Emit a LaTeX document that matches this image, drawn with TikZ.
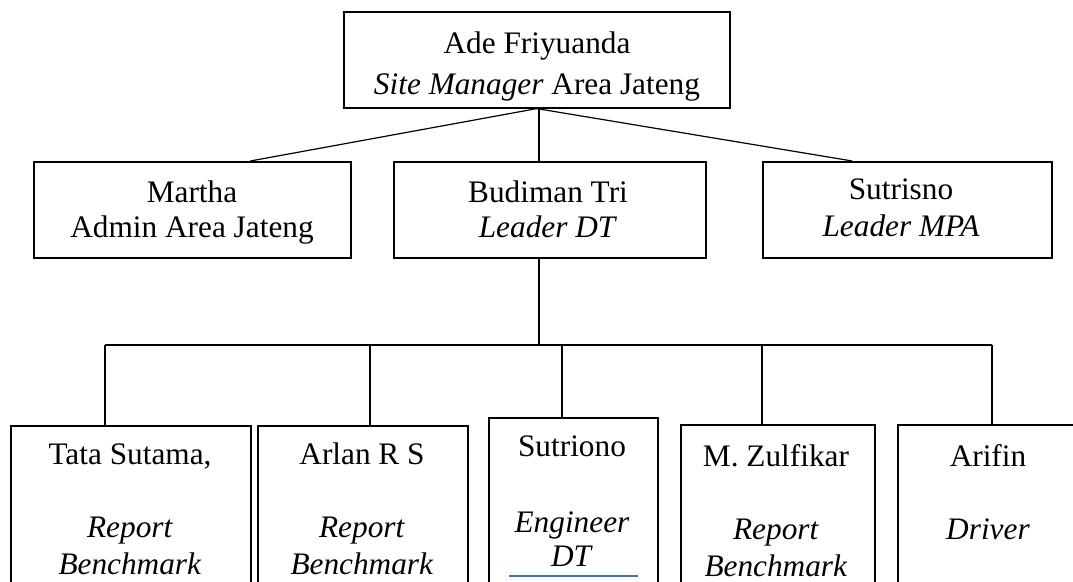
\documentclass[tikz,border=0pt]{standalone}
\usepackage{fontspec}
\setmainfont{Liberation Serif}
\definecolor{fieldblue}{RGB}{68,114,196}
\tikzset{
  box/.style={draw, line width=1.6pt, inner sep=0pt, anchor=north west},
  txt/.style={inner sep=0pt, align=center, anchor=north, font=\fontsize{31.3}{37}\selectfont},
  link/.style={line width=1.2pt}
}
\begin{document}
\begin{tikzpicture}[x=1pt, y=-1pt]
\useasboundingbox (0,0) rectangle (1073,581);
\clip (0,0) rectangle (1073,581);
% top
\node[box, minimum width=386pt, minimum height=96pt] (ade) at (343,11) {};
\node[txt, font=\fontsize{31.3}{41}\selectfont] (ade-t) at (537,32) {Ade Friyuanda\\\textit{Site Manager} Area Jateng};
% middle row
\node[box, minimum width=317pt, minimum height=96pt] (martha) at (33,161) {};
\node[box, minimum width=312pt, minimum height=96pt] (budiman) at (393,161) {};
\node[box, minimum width=289pt, minimum height=96pt] (sutrisno) at (762,161) {};
\node[txt, font=\fontsize{31.3}{35}\selectfont] (martha-t) at (192,181) {Martha\\Admin Area Jateng};
\node[txt, font=\fontsize{31.3}{35}\selectfont] (budiman-t) at (548,181) {Budiman Tri\\\textit{Leader DT}};
\node[txt, font=\fontsize{31.3}{37}\selectfont] (sutrisno-t) at (901,179) {Sutrisno\\\textit{Leader MPA}};
% bottom row
\node[box, minimum width=240pt, minimum height=200pt] (tata) at (10,425) {};
\node[box, minimum width=210pt, minimum height=200pt] (arlan) at (257,425) {};
\node[box, minimum width=169pt, minimum height=200pt] (sutriono) at (488,417) {};
\node[box, minimum width=194pt, minimum height=200pt] (zulfikar) at (680,424) {};
\node[box, minimum width=200pt, minimum height=200pt] (arifin) at (897,424) {};
\node[txt] (tata-t) at (130,444) {Tata Sutama,\\[36pt]\textit{Report}\\\textit{Benchmark}};
\node[txt] (arlan-t) at (362,443) {Arlan R S\\[36pt]\textit{Report}\\\textit{Benchmark}};
\node[txt, font=\fontsize{31.3}{34}\selectfont] (sutriono-t) at (572,436) {Sutriono\\[42pt]\textit{Engineer}\\\textit{DT}};
\node[txt] (zulfikar-t) at (776,444) {M. Zulfikar\\[36pt]\textit{Report}\\\textit{Benchmark}};
\node[txt] (arifin-t) at (988,444) {Arifin\\[36pt]\textit{Driver}};
\draw[fieldblue, line width=1.2pt] (509,576) -- (638,576);
% connectors
\coordinate (hub) at (539,345);
\coordinate (martha-in) at ([xshift=58pt]martha.north);
\coordinate (sutrisno-in) at ([xshift=-55pt]sutrisno.north);
\draw[link] (ade.south) -- (martha-in);
\draw[link] (ade.south) -- (sutrisno-in);
\draw[link] (hub |- ade.south) -- (hub |- budiman.north);
\draw[link] (hub |- budiman.south) -- (hub);
\foreach \x/\n in {105/tata, 370/arlan, 562/sutriono, 762/zulfikar, 992/arifin}{
  \coordinate (drop-\n) at (\x,345);
  \draw[link] (drop-\n) -- (drop-\n |- \n.north);
}
\draw[link] (drop-tata) -- (drop-arifin);
\end{tikzpicture}
\end{document}
